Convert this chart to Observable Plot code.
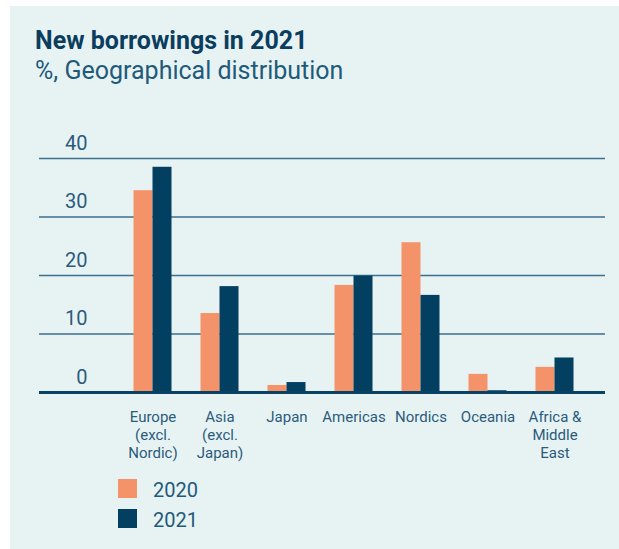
<!DOCTYPE html>
<html>
<head>
<meta charset="utf-8">
<script src="https://cdn.jsdelivr.net/npm/d3@7"></script>
<script src="https://cdn.jsdelivr.net/npm/@observablehq/plot@0.6"></script>
<style>
  html, body { margin: 0; padding: 0; background: #ffffff; }
  body { width: 619px; height: 549px; position: relative; overflow: hidden; font-family: Roboto, "Noto Sans", sans-serif; }
  #panel { position: absolute; left: 10px; top: 6px; right: 0; bottom: 0; background: #e7f3f3; }
  .abs { position: absolute; white-space: nowrap; line-height: 1; }
  #title { left: 35px; top: 28px; font-size: 25px; font-weight: 700; color: #0b3d5e; }
  #subtitle { left: 35px; top: 58px; font-size: 25px; font-weight: 400; color: #1f5a7a; }
  #chart { position: absolute; left: 0; top: 100px; }
  .sw { position: absolute; width: 19px; height: 19px; }
  .lg { font-size: 20px; color: #1f5a7a; }
</style>
</head>
<body>
<div id="panel"></div>
<div id="title" class="abs">New borrowings in 2021</div>
<div id="subtitle" class="abs">%, Geographical distribution</div>
<div id="chart"></div>
<div class="sw" style="left:118px;top:479px;background:#f4936a"></div>
<div class="abs lg" style="left:153px;top:480px">2020</div>
<div class="sw" style="left:118px;top:509px;background:#023f60"></div>
<div class="abs lg" style="left:153px;top:510px">2021</div>
<script>
const regions = ["Europe\n(excl.\nNordic)", "Asia\n(excl.\nJapan)", "Japan", "Americas", "Nordics", "Oceania", "Africa &\nMiddle\nEast"];
const values2020 = [34.5, 13.5, 1.2, 18.3, 25.6, 3.1, 4.3];
const values2021 = [38.5, 18.1, 1.7, 19.9, 16.6, 0.3, 5.9];
const yTicks = [0, 10, 20, 30, 40];

const d2020 = regions.map((r, i) => ({region: r, value: values2020[i]}));
const d2021 = regions.map((r, i) => ({region: r, value: values2021[i]}));

const textColor = "#2b5b7c";

const chart = Plot.plot({
  width: 619,
  height: 370,
  marginLeft: 39,
  marginRight: 14,
  marginTop: 58,
  marginBottom: 78,
  style: {background: "transparent", fontFamily: "Roboto, 'Noto Sans', sans-serif"},
  x: {type: "band", domain: regions, paddingInner: 0.72, paddingOuter: 1.04, align: 0.714},
  y: {domain: [0, 40]},
  marks: [
    Plot.ruleY([10, 20, 30, 40], {stroke: "#3d6f8f", strokeWidth: 1.3}),
    Plot.barY(d2020, {x: "region", y: "value", fill: "#f4936a", dx: -9.5}),
    Plot.barY(d2021, {x: "region", y: "value", fill: "#023f60", dx: 9.5}),
    Plot.ruleY([0], {stroke: "#0a4263", strokeWidth: 3}),
    Plot.axisY({ticks: yTicks, tickSize: 0, tickPadding: 0, dx: 48, dy: -15, fontSize: 20, fill: textColor, label: null}),
    Plot.axisX({tickSize: 0, tickPadding: 17, fontSize: 15, lineHeight: 1.2, fill: textColor, label: null})
  ]
});
document.getElementById("chart").appendChild(chart);
</script>
</body>
</html>
